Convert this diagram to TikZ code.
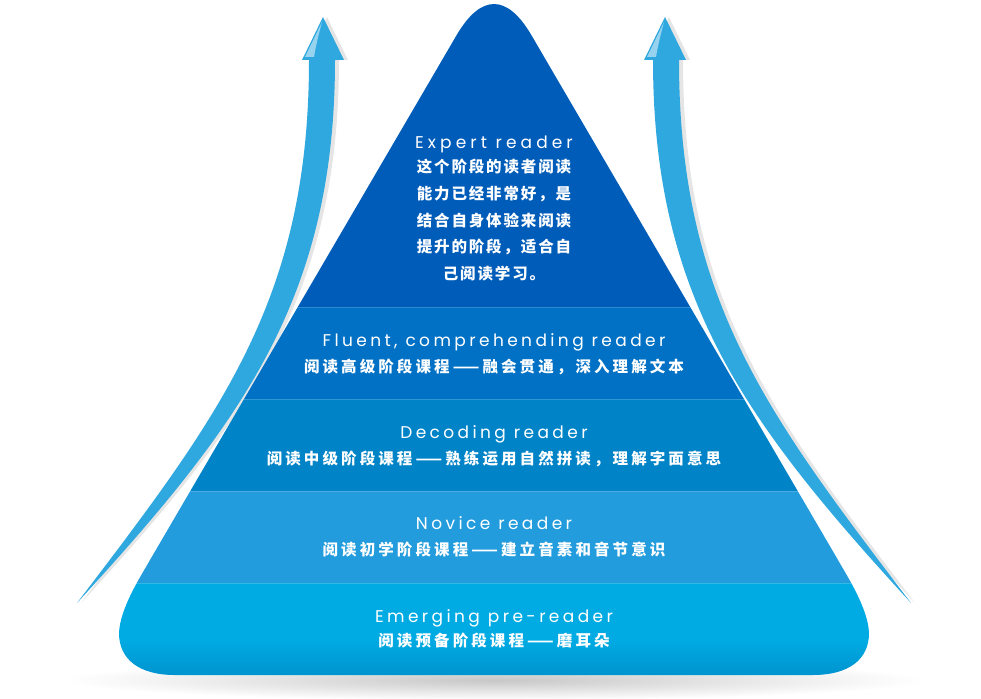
\documentclass[tikz,border=0pt]{standalone}
\usepackage{fontspec}
\newfontfamily\enfont{Poppins}[LetterSpace=20]
\newfontfamily\enwide{Poppins}[LetterSpace=24]
\newfontfamily\cjkfont{Noto Sans CJK SC}[LetterSpace=12]
\newfontfamily\cjkwide{Noto Sans CJK SC}[LetterSpace=20]
\definecolor{bandA}{HTML}{005CB9}
\definecolor{bandB}{HTML}{0071C5}
\definecolor{bandC}{HTML}{0083C7}
\definecolor{bandD}{HTML}{229CDD}
\definecolor{bandE}{HTML}{00AAE2}
\definecolor{bandEd}{HTML}{0092CE}
\definecolor{arrowc}{HTML}{2FA8E0}
\def\pyrpath{(456.7,35) .. controls (481,-6.3) and (507,-6.3) .. (531.3,35)
  -- (838,560) .. controls (847,576) and (868,608) .. (869,633)
  .. controls (869,660) and (848,675) .. (813,675)
  -- (175,675) .. controls (140,675) and (119,660) .. (119,633)
  .. controls (120,608) and (141,576) .. (150,560) -- cycle}
\def\arrpath{(323,17) -- (344,60) -- (335,60) .. controls (335,300) and (240,425) .. (77,603)
  .. controls (220,415) and (309,300) .. (309,60) -- (302,60) -- cycle}
\begin{document}
\begin{tikzpicture}[x=1pt,y=-1pt,
  en/.style={text=white,font=\enfont\fontsize{17}{20}\selectfont,anchor=base,inner sep=0pt},
  enw/.style={text=white,font=\enwide\fontsize{17}{20}\selectfont,anchor=base,inner sep=0pt},
  cn/.style={text=white,font=\cjkfont\bfseries\fontsize{15.5}{18}\selectfont,anchor=base,inner sep=0pt},
  cnw/.style={text=white,font=\cjkwide\bfseries\fontsize{15.5}{18}\selectfont,anchor=base,inner sep=0pt},
  sep/.style={draw=white,draw opacity=0.18,line width=0.8pt},
  shadowc/.style={fill=black,fill opacity=0.10},
  gloss/.style={fill=white,fill opacity=0.5}]
\fill[white] (0,0) rectangle (981,698);
\useasboundingbox (0,0) rectangle (981,698);
% ground shadow
\shade[inner color=black!22,outer color=white] (494,680) ellipse [x radius=430,y radius=20];
% left arrow
\begin{scope}
  \fill[shadowc,xshift=4] \arrpath;
  \fill[arrowc] \arrpath;
  \fill[gloss] (322,22) -- (305,57) -- (314,57) .. controls (316,45) and (319,33) .. cycle;
\end{scope}
% right arrow (mirrored)
\begin{scope}[shift={(988,0)},xscale=-1]
  \fill[shadowc,xshift=-4] \arrpath;
  \fill[arrowc] \arrpath;
\end{scope}
\fill[gloss] (664,22) -- (647,57) -- (656,57) .. controls (658,45) and (661,33) .. cycle;
% pyramid
\begin{scope}
  \clip \pyrpath;
  \fill[bandA] (100,-10) rectangle (900,307);
  \fill[bandB] (100,307) rectangle (900,399);
  \fill[bandC] (100,399) rectangle (900,491);
  \fill[bandD] (100,491) rectangle (900,583);
  \fill[bandE] (100,583) rectangle (900,640);
  \shade[top color=bandE,bottom color=bandEd] (100,640) rectangle (900,678);
  \draw[sep] (100,307) -- (900,307);
  \draw[sep] (100,399) -- (900,399);
  \draw[sep] (100,491) -- (900,491);
  \draw[sep] (100,583) -- (900,583);
\end{scope}
% texts
\node[enw] (t1) at (494,148) {Expert reader};
\node[cn] (t1a) at (494,172) {这个阶段的读者阅读};
\node[cn] (t1b) at (494,199) {能力已经非常好，是};
\node[cn] (t1c) at (494,226) {结合自身体验来阅读};
\node[cn] (t1d) at (494,252) {提升的阶段，适合自};
\node[cn] (t1e) at (494,279) {己阅读学习。};
\node[en] (t2) at (494,346) {Fluent, comprehending reader};
\node[cnw] (t2a) at (494,372) {阅读高级阶段课程——融会贯通，深入理解文本};
\node[en] (t3) at (494,438) {Decoding reader};
\node[cnw] (t3a) at (494,464) {阅读中级阶段课程——熟练运用自然拼读，理解字面意思};
\node[en] (t4) at (494,529) {Novice reader};
\node[cnw] (t4a) at (494,555) {阅读初学阶段课程——建立音素和音节意识};
\node[en] (t5) at (494,622) {Emerging pre-reader};
\node[cnw] (t5a) at (494,646) {阅读预备阶段课程——磨耳朵};
\end{tikzpicture}
\end{document}
